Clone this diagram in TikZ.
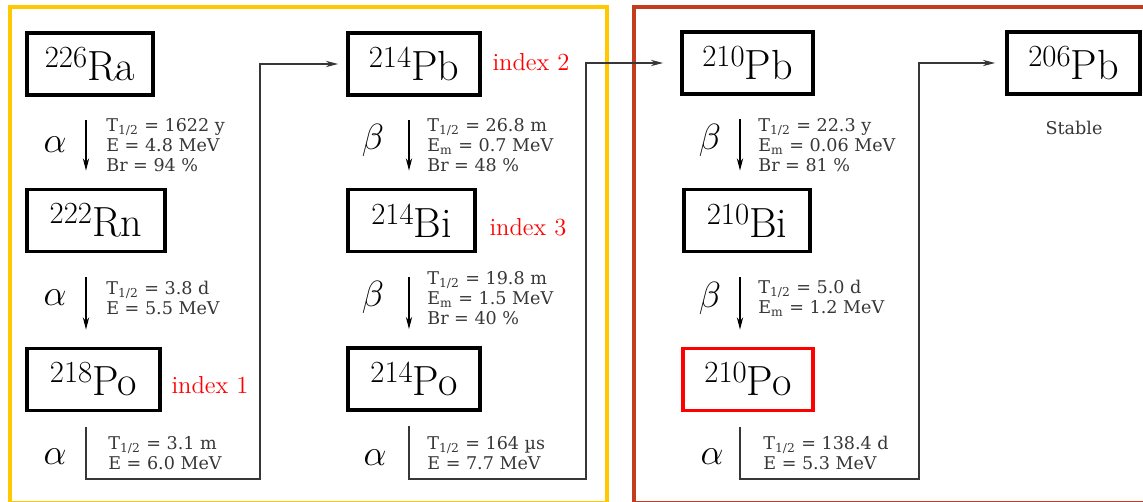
\documentclass[tikz,border=0pt]{standalone}
\usepackage{fontspec}
\newfontfamily\datafont{DejaVu Serif}
\usetikzlibrary{arrows.meta,positioning}

\definecolor{chainyellow}{RGB}{255,200,0}
\definecolor{chainbrown}{RGB}{195,60,30}
\definecolor{datagray}{RGB}{55,55,55}

\newcommand{\nuc}[2]{\raisebox{7.4pt}{\fontsize{17.5}{17.5}\selectfont #1}#2}
\newcommand{\thalf}{T\textsubscript{1/2}}
\newcommand{\emax}{E\textsubscript{m}}

\begin{document}
\begin{tikzpicture}[x=0.02cm, y=-0.02cm, >={Stealth[length=7pt,width=3.6pt]},
  nuclide/.style={draw, line width=2.2pt, minimum height=1.24cm, inner sep=0pt, font=\fontsize{24}{24}\selectfont},
  mode/.style={font=\fontsize{20.74}{20.74}\selectfont},
  data/.style={anchor=west, align=left, inner sep=0pt, text=datagray, font=\datafont\fontsize{10}{11.4}\selectfont},
  tag/.style={text=red, font=\fontsize{14}{14}\selectfont},
  decay/.style={->, line width=0.6pt, shorten <=0.47cm, shorten >=0.34cm},
  chain/.style={->, draw=datagray, line width=0.6pt, shorten <=0.29cm}]
  \useasboundingbox (0,0) rectangle (1143,502);
  \clip (0,0) rectangle (1143,502);

  % frames
  \draw[chainyellow, line width=2.3pt] (10,7) rectangle (607,503);
  \draw[chainbrown, line width=2.3pt] (634,7) rectangle (1160,503);

  % nuclides
  \node[nuclide, minimum width=2.52cm] (Ra226) at (90,64) {\nuc{226}{Ra}};
  \node[nuclide, minimum width=2.76cm] (Rn222) at (96,220.5) {\nuc{222}{Rn}};
  \node[nuclide, minimum width=2.66cm] (Po218) at (93.5,379.5) {\nuc{218}{Po}};
  \node[nuclide, minimum width=2.64cm] (Pb214) at (414,64) {\nuc{214}{Pb}};
  \node[nuclide, minimum width=2.54cm] (Bi214) at (411.5,220.5) {\nuc{214}{Bi}};
  \node[nuclide, minimum width=2.64cm] (Po214) at (414,379) {\nuc{214}{Po}};
  \node[nuclide, minimum width=2.62cm] (Pb210) at (747.5,63) {\nuc{210}{Pb}};
  \node[nuclide, minimum width=2.52cm] (Bi210) at (747,220.5) {\nuc{210}{Bi}};
  \node[nuclide, minimum width=2.60cm, draw=red] (Po210) at (748,379.5) {\nuc{210}{Po}};
  \node[nuclide, minimum width=2.66cm] (Pb206) at (1073.5,63) {\nuc{206}{Pb}};

  \node[tag] (idx1) at (210,385) {index 1};
  \node[tag] (idx2) at (531,62) {index 2};
  \node[tag] (idx3) at (528,227) {index 3};
  \node[data, anchor=center] (stable) at (1074,128) {Stable};

  % decay modes
  \node[mode] (m1) at (55,145) {$\alpha$};
  \node[mode] (m2) at (55,298) {$\alpha$};
  \node[mode] (m3) at (55,457) {$\alpha$};
  \node[mode] (m4) at (373,140) {$\beta$};
  \node[mode] (m5) at (373,297) {$\beta$};
  \node[mode] (m6) at (375,458) {$\alpha$};
  \node[mode] (m7) at (710,140) {$\beta$};
  \node[mode] (m8) at (710,298) {$\beta$};
  \node[mode] (m9) at (712,457) {$\alpha$};

  % decay data
  \node[data] (d1) at (106,145) {\thalf{} = 1622 y\\E = 4.8 MeV\\Br = 94 \%};
  \node[data] (d2) at (106,298) {\thalf{} = 3.8 d\\E = 5.5 MeV};
  \node[data] (d3) at (108,453) {\thalf{} = 3.1 m\\E = 6.0 MeV};
  \node[data] (d4) at (427,145) {\thalf{} = 26.8 m\\\emax{} = 0.7 MeV\\Br = 48 \%};
  \node[data] (d5) at (427,298) {\thalf{} = 19.8 m\\\emax{} = 1.5 MeV\\Br = 40 \%};
  \node[data] (d6) at (427,453) {\thalf{} = 164 µs\\E = 7.7 MeV};
  \node[data] (d7) at (758,145) {\thalf{} = 22.3 y\\\emax{} = 0.06 MeV\\Br = 81 \%};
  \node[data] (d8) at (758,298) {\thalf{} = 5.0 d\\\emax{} = 1.2 MeV};
  \node[data] (d9) at (763,453) {\thalf{} = 138.4 d\\E = 5.3 MeV};

  % arrows
  \coordinate (c1) at (86,0);
  \coordinate (c2) at (409,0);
  \coordinate (c3) at (740,0);
  \coordinate (t1) at (260,479);
  \coordinate (t2) at (586,479);
  \coordinate (t3) at (919,479);

  \draw[decay] (Ra226.south -| c1) -- (Rn222.north -| c1);
  \draw[decay] (Rn222.south -| c1) -- (Po218.north -| c1);
  \draw[decay] (Pb214.south -| c2) -- (Bi214.north -| c2);
  \draw[decay] (Bi214.south -| c2) -- (Po214.north -| c2);
  \draw[decay] (Pb210.south -| c3) -- (Bi210.north -| c3);
  \draw[decay] (Bi210.south -| c3) -- (Po210.north -| c3);

  \draw[chain, shorten >=0.16cm] (Po218.south -| c1) |- (t1) |- (Pb214.west);
  \draw[chain, shorten >=0.34cm] (Po214.south -| c2) |- (t2) |- (Pb210.west);
  \draw[chain, shorten >=0.2cm] (Po210.south -| c3) |- (t3) |- (Pb206.west);
\end{tikzpicture}
\end{document}
